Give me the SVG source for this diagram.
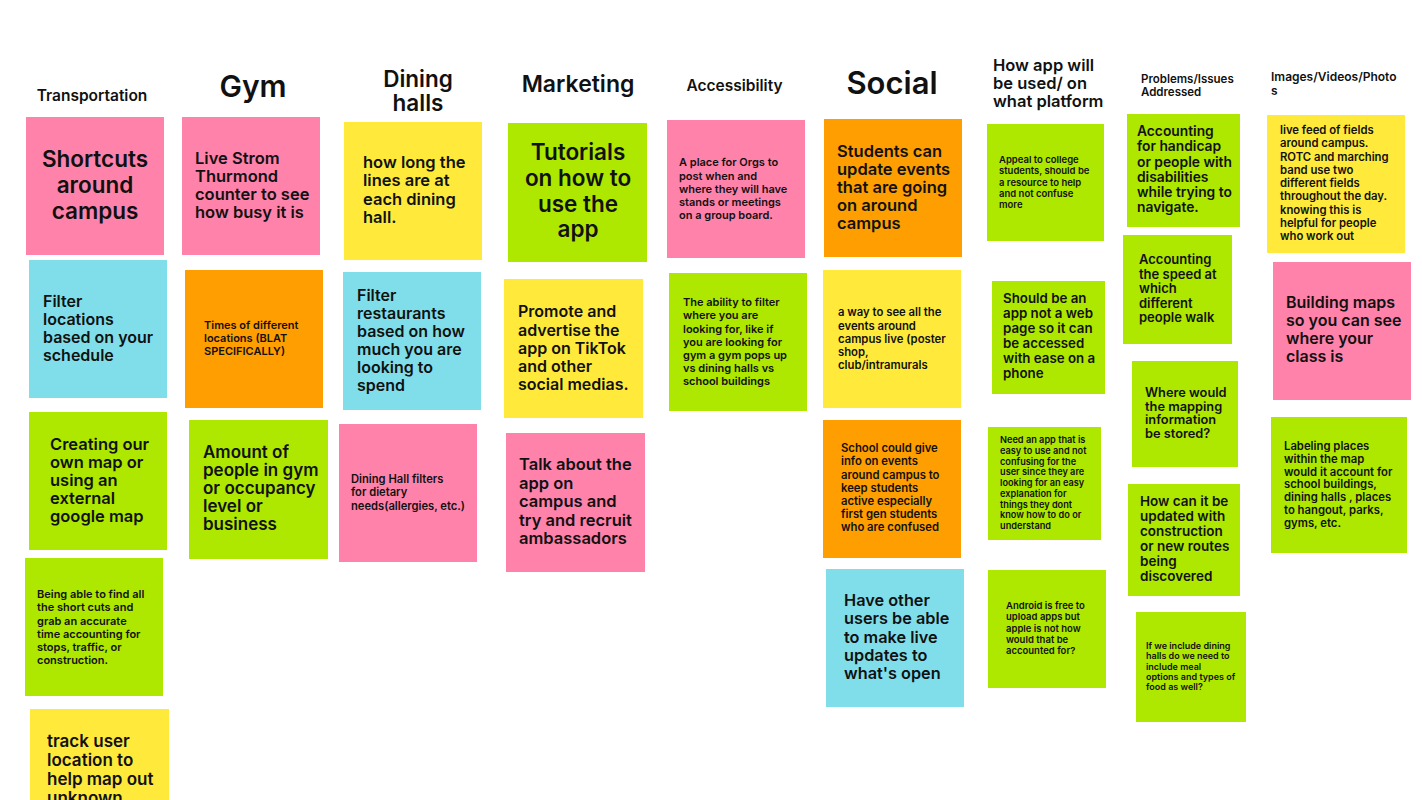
<svg xmlns="http://www.w3.org/2000/svg" width="1422" height="800" viewBox="0 0 1422 800">
<style>
text{font-family:Inter,"Liberation Sans",sans-serif;font-weight:600;fill:#111;}
.pk{fill:#FF82AB}.cy{fill:#80DEEA}.gr{fill:#AEE800}.ye{fill:#FFEA3C}.or{fill:#FF9E00}
.c{text-anchor:middle}
</style>
<rect width="1422" height="800" fill="#fff"/>
<g id="headers">
<text class="c" x="92" y="101" font-size="15.5">Transportation</text>
<text class="c" x="253" y="97" font-size="30">Gym</text>
<text class="c" x="418" y="86.5" font-size="22.5">Dining</text>
<text class="c" x="418" y="111" font-size="22.5">halls</text>
<text class="c" x="578" y="91.5" font-size="23">Marketing</text>
<text class="c" x="734.5" y="91" font-size="15.5">Accessibility</text>
<text class="c" x="892" y="93.5" font-size="31">Social</text>
<text x="993" y="71" font-size="16.5">How app will</text>
<text x="993" y="89" font-size="16.5">be used/ on</text>
<text x="993" y="107" font-size="16.5">what platform</text>
<text x="1141" y="83" font-size="11.5">Problems/Issues</text>
<text x="1141" y="96" font-size="11.5">Addressed</text>
<text x="1271" y="81" font-size="12">Images/Videos/Photo</text>
<text x="1271" y="95" font-size="12">s</text>
</g>
<g id="n-shortcuts"><rect class="pk" x="26" y="117" width="138" height="138"/>
<text class="c" font-size="22.5"><tspan x="95" y="167">Shortcuts</tspan><tspan x="95" y="193">around</tspan><tspan x="95" y="219">campus</tspan></text></g>
<g id="n-filter-loc"><rect class="cy" x="29" y="260" width="138" height="138"/>
<text font-size="16"><tspan x="43" y="307">Filter</tspan><tspan x="43" y="325">locations</tspan><tspan x="43" y="343">based on your</tspan><tspan x="43" y="361">schedule</tspan></text></g>
<g id="n-creating"><rect class="gr" x="29" y="412" width="138" height="138"/>
<text font-size="16.5"><tspan x="50" y="450">Creating our</tspan><tspan x="50" y="468">own map or</tspan><tspan x="50" y="486">using an</tspan><tspan x="50" y="504">external</tspan><tspan x="50" y="522">google map</tspan></text></g>
<g id="n-being"><rect class="gr" x="25" y="558" width="138" height="138"/>
<text font-size="11"><tspan x="37" y="598">Being able to find all</tspan><tspan x="37" y="611">the short cuts and</tspan><tspan x="37" y="624.5">grab an accurate</tspan><tspan x="37" y="638">time accounting for</tspan><tspan x="37" y="651">stops, traffic, or</tspan><tspan x="37" y="664">construction.</tspan></text></g>
<g id="n-track"><rect class="ye" x="30" y="709" width="139" height="139"/>
<text font-size="17"><tspan x="47" y="747">track user</tspan><tspan x="47" y="766">location to</tspan><tspan x="47" y="785">help map out</tspan><tspan x="47" y="804">unknown</tspan></text></g>
<g id="n-live"><rect class="pk" x="182" y="117" width="138" height="138"/>
<text font-size="16.5"><tspan x="195" y="164">Live Strom</tspan><tspan x="195" y="182">Thurmond</tspan><tspan x="195" y="200">counter to see</tspan><tspan x="195" y="218">how busy it is</tspan></text></g>
<g id="n-times"><rect class="or" x="185" y="270" width="138" height="138"/>
<text font-size="11"><tspan x="204" y="329">Times of different</tspan><tspan x="204" y="342">locations (BLAT</tspan><tspan x="204" y="355">SPECIFICALLY)</tspan></text></g>
<g id="n-amount"><rect class="gr" x="189" y="420" width="139" height="139"/>
<text font-size="17"><tspan x="203" y="458">Amount of</tspan><tspan x="203" y="476">people in gym</tspan><tspan x="203" y="494">or occupancy</tspan><tspan x="203" y="512">level or</tspan><tspan x="203" y="530">business</tspan></text></g>
<g id="n-howlong"><rect class="ye" x="344" y="122" width="138" height="138"/>
<text font-size="16.5"><tspan x="363" y="168">how long the</tspan><tspan x="363" y="186">lines are at</tspan><tspan x="363" y="204.5">each dining</tspan><tspan x="363" y="223">hall.</tspan></text></g>
<g id="n-filter-rest"><rect class="cy" x="343" y="272" width="138" height="138"/>
<text font-size="16"><tspan x="357" y="301">Filter</tspan><tspan x="357" y="319">restaurants</tspan><tspan x="357" y="337">based on how</tspan><tspan x="357" y="355">much you are</tspan><tspan x="357" y="373">looking to</tspan><tspan x="357" y="391">spend</tspan></text></g>
<g id="n-dietary"><rect class="pk" x="339" y="424" width="138" height="138"/>
<text font-size="11.2"><tspan x="351" y="483">Dining Hall filters</tspan><tspan x="351" y="496">for dietary</tspan><tspan x="351" y="510">needs(allergies, etc.)</tspan></text></g>
<g id="n-tutorials"><rect class="gr" x="508" y="123" width="139" height="139"/>
<text class="c" font-size="22.5"><tspan x="578" y="160">Tutorials</tspan><tspan x="578" y="186">on how to</tspan><tspan x="578" y="212">use the</tspan><tspan x="578" y="237">app</tspan></text></g>
<g id="n-promote"><rect class="ye" x="504" y="279" width="139" height="139"/>
<text font-size="16"><tspan x="518" y="317">Promote and</tspan><tspan x="518" y="335.5">advertise the</tspan><tspan x="518" y="354">app on TikTok</tspan><tspan x="518" y="372">and other</tspan><tspan x="518" y="390">social medias.</tspan></text></g>
<g id="n-talk"><rect class="pk" x="506" y="433" width="139" height="139"/>
<text font-size="16.5"><tspan x="519" y="470">Talk about the</tspan><tspan x="519" y="488.5">app on</tspan><tspan x="519" y="507">campus and</tspan><tspan x="519" y="525.5">try and recruit</tspan><tspan x="519" y="544">ambassadors</tspan></text></g>
<g id="n-orgs"><rect class="pk" x="667" y="120" width="138" height="138"/>
<text font-size="11"><tspan x="679" y="166">A place for Orgs to</tspan><tspan x="679" y="179.5">post when and</tspan><tspan x="679" y="193">where they will have</tspan><tspan x="679" y="206">stands or meetings</tspan><tspan x="679" y="219">on a group board.</tspan></text></g>
<g id="n-ability"><rect class="gr" x="669" y="273" width="138" height="138"/>
<text font-size="11"><tspan x="683" y="306">The ability to filter</tspan><tspan x="683" y="319">where you are</tspan><tspan x="683" y="332.5">looking for, like if</tspan><tspan x="683" y="346">you are looking for</tspan><tspan x="683" y="359">gym a gym pops up</tspan><tspan x="683" y="372">vs dining halls vs</tspan><tspan x="683" y="385">school buildings</tspan></text></g>
<g id="n-students"><rect class="or" x="824" y="119" width="138" height="138"/>
<text font-size="16.5"><tspan x="837" y="157">Students can</tspan><tspan x="837" y="175">update events</tspan><tspan x="837" y="193">that are going</tspan><tspan x="837" y="211">on around</tspan><tspan x="837" y="229">campus</tspan></text></g>
<g id="n-waytosee"><rect class="ye" x="823" y="270" width="138" height="138"/>
<text font-size="11.3"><tspan x="838" y="316">a way to see all the</tspan><tspan x="838" y="329.5">events around</tspan><tspan x="838" y="343">campus live (poster</tspan><tspan x="838" y="356">shop,</tspan><tspan x="838" y="369">club/intramurals</tspan></text></g>
<g id="n-school"><rect class="or" x="823" y="420" width="138" height="138"/>
<text font-size="11.3"><tspan x="841" y="452">School could give</tspan><tspan x="841" y="465">info on events</tspan><tspan x="841" y="478.5">around campus to</tspan><tspan x="841" y="492">keep students</tspan><tspan x="841" y="505">active especially</tspan><tspan x="841" y="518">first gen students</tspan><tspan x="841" y="531">who are confused</tspan></text></g>
<g id="n-haveother"><rect class="cy" x="826" y="569" width="138" height="138"/>
<text font-size="16.3"><tspan x="844" y="606">Have other</tspan><tspan x="844" y="624">users be able</tspan><tspan x="844" y="642.5">to make live</tspan><tspan x="844" y="661">updates to</tspan><tspan x="844" y="679">what's open</tspan></text></g>
<g id="n-appeal"><rect class="gr" x="987" y="124" width="117" height="117"/>
<text font-size="9.5"><tspan x="999" y="162.5">Appeal to college</tspan><tspan x="999" y="174">students, should be</tspan><tspan x="999" y="185.5">a resource to help</tspan><tspan x="999" y="197">and not confuse</tspan><tspan x="999" y="208">more</tspan></text></g>
<g id="n-shouldbe"><rect class="gr" x="992" y="281" width="113" height="113"/>
<text font-size="13.3"><tspan x="1003" y="303">Should be an</tspan><tspan x="1003" y="318">app not a web</tspan><tspan x="1003" y="333">page so it can</tspan><tspan x="1003" y="348">be accessed</tspan><tspan x="1003" y="363">with ease on a</tspan><tspan x="1003" y="378">phone</tspan></text></g>
<g id="n-needapp"><rect class="gr" x="988" y="427" width="113" height="113"/>
<text font-size="9.2"><tspan x="1000" y="443">Need an app that is</tspan><tspan x="1000" y="454">easy to use and not</tspan><tspan x="1000" y="464.5">confusing for the</tspan><tspan x="1000" y="475">user since they are</tspan><tspan x="1000" y="486">looking for an easy</tspan><tspan x="1000" y="497">explanation for</tspan><tspan x="1000" y="507.5">things they dont</tspan><tspan x="1000" y="518">know how to do or</tspan><tspan x="1000" y="529">understand</tspan></text></g>
<g id="n-android"><rect class="gr" x="988" y="570" width="118" height="118"/>
<text font-size="9.5"><tspan x="1006" y="609">Android is free to</tspan><tspan x="1006" y="620">upload apps but</tspan><tspan x="1006" y="631.5">apple is not how</tspan><tspan x="1006" y="642.5">would that be</tspan><tspan x="1006" y="654">accounted for?</tspan></text></g>
<g id="n-handicap"><rect class="gr" x="1127" y="114" width="113" height="113"/>
<text font-size="13.8"><tspan x="1137" y="136">Accounting</tspan><tspan x="1137" y="151">for handicap</tspan><tspan x="1137" y="166.5">or people with</tspan><tspan x="1137" y="181.5">disabilities</tspan><tspan x="1137" y="196.5">while trying to</tspan><tspan x="1137" y="211.5">navigate.</tspan></text></g>
<g id="n-speed"><rect class="gr" x="1123" y="235" width="109" height="109"/>
<text font-size="13"><tspan x="1139" y="264">Accounting</tspan><tspan x="1139" y="278.5">the speed at</tspan><tspan x="1139" y="293">which</tspan><tspan x="1139" y="307.5">different</tspan><tspan x="1139" y="322">people walk</tspan></text></g>
<g id="n-where"><rect class="gr" x="1132" y="361" width="106" height="106"/>
<text font-size="12.8"><tspan x="1145" y="397">Where would</tspan><tspan x="1145" y="410.5">the mapping</tspan><tspan x="1145" y="424">information</tspan><tspan x="1145" y="438">be stored?</tspan></text></g>
<g id="n-howcan"><rect class="gr" x="1128" y="484" width="112" height="112"/>
<text font-size="13.5"><tspan x="1140" y="506">How can it be</tspan><tspan x="1140" y="521">updated with</tspan><tspan x="1140" y="536">construction</tspan><tspan x="1140" y="551">or new routes</tspan><tspan x="1140" y="566">being</tspan><tspan x="1140" y="581">discovered</tspan></text></g>
<g id="n-ifwe"><rect class="gr" x="1136" y="612" width="110" height="110"/>
<text font-size="9"><tspan x="1146" y="648.5">If we include dining</tspan><tspan x="1146" y="659">halls do we need to</tspan><tspan x="1146" y="669.5">include meal</tspan><tspan x="1146" y="680">options and types of</tspan><tspan x="1146" y="690">food as well?</tspan></text></g>
<g id="n-livefeed"><rect class="ye" x="1267" y="115" width="138" height="138"/>
<text font-size="11.3"><tspan x="1280" y="134">live feed of fields</tspan><tspan x="1280" y="147.3">around campus.</tspan><tspan x="1280" y="160.5">ROTC and marching</tspan><tspan x="1280" y="173.8">band use two</tspan><tspan x="1280" y="187">different fields</tspan><tspan x="1280" y="200.3">throughout the day.</tspan><tspan x="1280" y="213.5">knowing this is</tspan><tspan x="1280" y="226.8">helpful for people</tspan><tspan x="1280" y="240">who work out</tspan></text></g>
<g id="n-building"><rect class="pk" x="1273" y="262" width="138" height="138"/>
<text font-size="16"><tspan x="1286" y="308">Building maps</tspan><tspan x="1286" y="326">so you can see</tspan><tspan x="1286" y="344">where your</tspan><tspan x="1286" y="362">class is</tspan></text></g>
<g id="n-labeling"><rect class="gr" x="1271" y="417" width="136" height="136"/>
<text font-size="11.3"><tspan x="1284" y="450">Labeling places</tspan><tspan x="1284" y="462.8">within the map</tspan><tspan x="1284" y="475.5">would it account for</tspan><tspan x="1284" y="488.3">school buildings,</tspan><tspan x="1284" y="501">dining halls , places</tspan><tspan x="1284" y="513.8">to hangout, parks,</tspan><tspan x="1284" y="526.5">gyms, etc.</tspan></text></g>
<g id="connectors"></g>
</svg>
